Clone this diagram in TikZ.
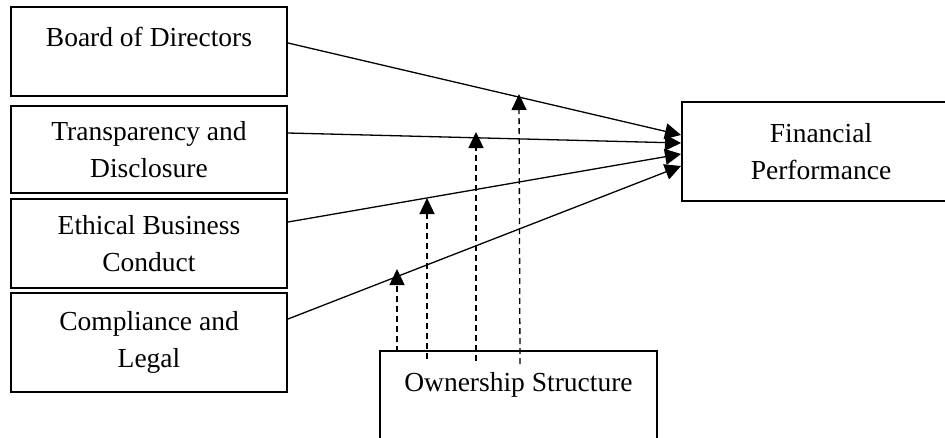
\documentclass[tikz,border=0pt]{standalone}
\usepackage{fontspec}
\setmainfont{Liberation Serif}
\usetikzlibrary{arrows.meta}
\begin{document}
\begin{tikzpicture}[x=1pt,y=-1pt,
  box/.style={draw,line width=2pt,align=center,inner sep=0pt,
    font=\fontsize{27.5}{37}\selectfont},
  conn/.style={line width=1.3pt,-{Triangle[length=16pt,width=16pt]}},
  modl/.style={line width=1.3pt,dash pattern=on 6pt off 4pt,-{Triangle[length=16pt,width=15pt]}}]
\clip (0,0) rectangle (945,437);
\useasboundingbox (0,0) rectangle (945,437);
\node[box,minimum width=276pt,minimum height=89pt] (b1) at (149,51.5) {Board of Directors\\[-18pt]\strut};
\node[box,minimum width=276pt,minimum height=87pt] (b2) at (149,149.5) {Transparency and\\Disclosure};
\node[box,minimum width=276pt,minimum height=89pt] (b3) at (149,243.5) {Ethical Business\\Conduct};
\node[box,minimum width=276pt,minimum height=99pt] (b4) at (149,342.5) {Compliance and\\Legal};
\node[box,minimum width=278pt,minimum height=99pt] (fp) at (821,151.5) {Financial\\Performance};
\node[box,minimum width=277pt,minimum height=100pt] (os) at (518.5,401) {Ownership Structure\\[-10pt]\strut};
\draw[conn] ([yshift=8.5pt]b1.east) -- ([yshift=16.5pt]fp.west);
\draw[conn] ([yshift=16.5pt]b2.east) -- ([yshift=8.5pt]fp.west);
\draw[conn] ([yshift=21.5pt]b3.east) -- ([yshift=-2.5pt]fp.west);
\draw[conn] ([yshift=23.5pt]b4.east) -- ([yshift=-14.5pt]fp.west);
\coordinate (m1) at (397,269);
\coordinate (m2) at (427,198);
\coordinate (m3) at (476,132);
\coordinate (m4) at (519,94);
\draw[modl] ([xshift=-121.5pt,yshift=-2pt]os.north) -- (m1);
\draw[modl] ([xshift=-91.5pt,yshift=-9pt]os.north) -- (m2);
\draw[modl] ([xshift=-42.5pt,yshift=-11pt]os.north) -- (m3);
\draw[modl] ([xshift=1.5pt,yshift=-14pt]os.north) -- (m4);
\end{tikzpicture}
\end{document}
